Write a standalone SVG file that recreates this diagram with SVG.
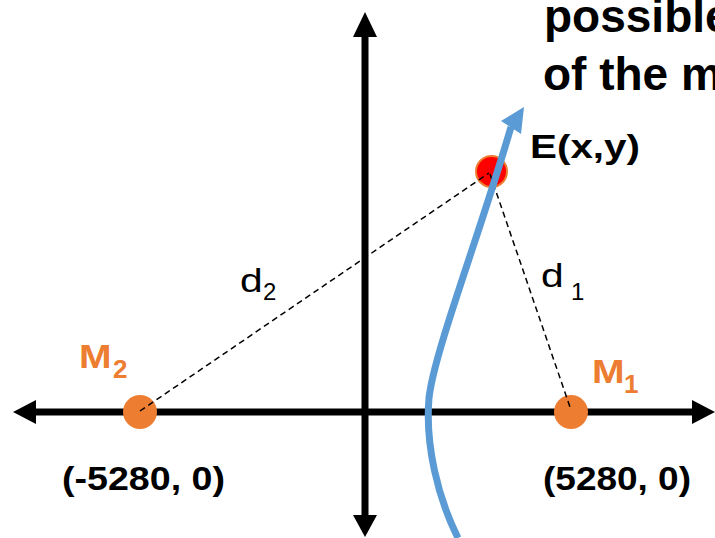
<svg xmlns="http://www.w3.org/2000/svg" width="715" height="538" viewBox="0 0 715 538">
<style>
.axis{stroke:#000;stroke-width:7;fill:none}
.head{fill:#000}
.dash{stroke:#000;stroke-width:1.5;stroke-dasharray:6 4;fill:none}
.mic{fill:#ED7D31}
.lbl{font-family:"Liberation Sans",Arial,sans-serif;font-weight:bold;fill:#000}
.mlbl{font-family:"Liberation Sans",Arial,sans-serif;font-weight:bold;fill:#ED7D31}
.dl{font-family:"Liberation Sans",Arial,sans-serif;fill:#000}
.blue{stroke:#5B9BD5;stroke-width:7;fill:none}
</style>
<rect width="715" height="538" fill="#fff"/>
<g id="axes">
<line class="axis" x1="30" y1="412" x2="697" y2="412"/>
<polygon class="head" points="13,412 36,400 36,424"/>
<polygon class="head" points="715,412 692,400 692,424"/>
<line class="axis" x1="365" y1="30" x2="365" y2="520"/>
<polygon class="head" points="365,12 353,37 377,37"/>
<polygon class="head" points="365,537 353,515 377,515"/>
</g>
<g id="M2">
<circle class="mic" cx="140" cy="412" r="17"/>
<text class="mlbl" font-size="34" transform="translate(79,368) scale(1.15,1)">M</text>
<text class="mlbl" font-size="26" x="113" y="378">2</text>
<text class="lbl" font-size="33" x="62" y="490" textLength="163" lengthAdjust="spacingAndGlyphs">(-5280, 0)</text>
</g>
<g id="M1">
<circle class="mic" cx="571" cy="412" r="17"/>
<text class="mlbl" font-size="34" transform="translate(592,383) scale(1.15,1)">M</text>
<text class="mlbl" font-size="26" x="624" y="393">1</text>
<text class="lbl" font-size="33" x="543" y="490" textLength="148" lengthAdjust="spacingAndGlyphs">(5280, 0)</text>
</g>
<g id="E">
<circle cx="491.5" cy="171.5" r="15.5" fill="#FF0000" stroke="#ED7D31" stroke-width="2"/>
<text class="lbl" font-size="34" x="530" y="158" textLength="110" lengthAdjust="spacingAndGlyphs">E(x,y)</text>
</g>
<g id="title">
<text class="lbl" font-size="46" x="544" y="32">possible</text>
<text class="lbl" font-size="46" x="543" y="90">of the m</text>
</g>
<g id="connectors">
<line class="dash" x1="140" y1="411" x2="489" y2="173"/>
<line class="dash" x1="490" y1="174" x2="571" y2="410"/>
<path class="blue" d="M458,538 C438,498 425,445 429,398 C434,352 478,240 511,127"/>
<polygon fill="#5B9BD5" points="524,107 501,121 521,134"/>
</g>
<g id="dlabels">
<text class="dl" font-size="34" transform="translate(240,292) scale(1.2,1)">d</text>
<text class="dl" font-size="24" x="263" y="300">2</text>
<text class="dl" font-size="34" transform="translate(541,287) scale(1.2,1)">d</text>
<text class="dl" font-size="24" x="571" y="300">1</text>
</g>
</svg>
